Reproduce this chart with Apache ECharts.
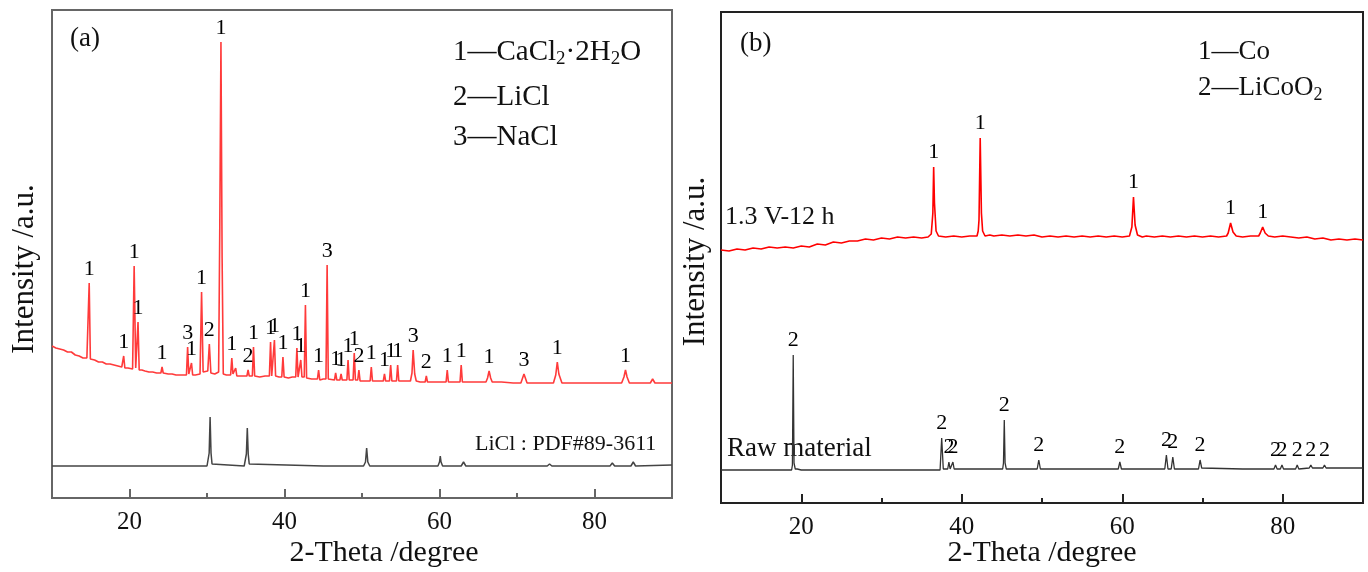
<!DOCTYPE html>
<html>
<head>
<meta charset="utf-8">
<script src="https://cdn.jsdelivr.net/npm/echarts@6/dist/echarts.min.js"></script>
<style>html,body{margin:0;padding:0;background:#fff}#c{width:1368px;height:572px}</style>
</head>
<body>
<div id="c"></div>
<script>
// ---- data (x = 2θ in degree, y = intensity a.u.) ----
var majorTicks = [20, 40, 60, 80];
var minorTicks = [30, 50, 70];

var redA = [
[10,152],[10.5,150],[11,149],[11.5,148],[12,146],[12.5,146],[13,143],[13.5,142],[14,140],[14.5,140],
[14.65,139],[14.8,215],[14.95,139],
[15.5,138],[16,136],[16.5,136],[17,134],[17.5,134],[18,133],[18.5,132],[19,131],
[19.1,131],[19.25,142],[19.4,130],
[19.8,130],[20.4,129],[20.6,232],[20.8,130],[20.95,131],[21.1,176],[21.25,128],
[21.6,128],[22,127],[22.5,126],[23,126],[23.5,125],[24.05,125],[24.2,131],[24.35,125],
[25,124],[25.5,124],[26,123],[26.5,123],[27,123],[27.35,123],[27.5,151],[27.65,124],[27.85,124],[28.0,135],[28.15,123],
[28.5,123],[29.1,124],[29.3,206],[29.5,126],[30.1,127],[30.3,154],[30.5,125],
[31,124],[31.5,126],[31.65,271],[31.8,456],[31.95,240],[32.1,124],
[32.5,123],[33.05,123],[33.2,140],[33.35,124],[33.55,124],[33.7,130],[33.85,122],
[34.5,122],[35.15,122],[35.3,128],[35.45,122],[35.85,122],[36.0,151],[36.15,122],
[36.8,121],[37.5,122],[38.05,122],[38.2,156],[38.35,122],[38.55,122],[38.7,158],[38.85,122],
[39.3,121],[39.65,121],[39.8,141],[39.95,121],
[40.5,120],[41.0,121],[41.45,121],[41.6,150],[41.75,121],[41.95,121],[42.1,138],[42.25,121],[42.55,121],[42.7,193],[42.85,120],
[43.5,119],[44.25,119],[44.4,128],[44.55,118],
[45.0,119],[45.35,119],[45.5,233],[45.65,119],[45.9,118],
[46.45,118],[46.6,125],[46.75,118],[47.15,118],[47.3,124],[47.45,118],
[48.05,118],[48.2,138],[48.35,118],[48.85,118],[49.0,145],[49.15,118],[49.45,118],[49.6,128],[49.75,117],
[50.5,117],[51.05,117],[51.2,131],[51.35,117],[52,117],[52.75,117],[52.9,124],[53.05,117],[53.55,117],[53.7,133],[53.85,117],[54.45,117],[54.6,133],[54.75,117],
[55.5,117],[56.25,117],[56.45,125],[56.6,148],[56.8,124],[57.0,117],[57.5,116],[58.15,116],[58.3,122],[58.45,116],
[59.5,116],[60.85,116],[61.0,128],[61.15,116],[62,116],[62.65,116],[62.8,133],[62.95,116],
[64,116],[65,116],[66.0,116],[66.2,120],[66.4,127],[66.6,120],[66.8,116],[68,116],[69.5,115],[70.5,115],[70.9,124],[71.3,115],
[72.5,115],[74,115],[74.7,115],[75.0,123],[75.2,136],[75.4,124],[75.8,115],[77,115],[79,115],[81,115],[83,115],[83.5,115],[83.8,121],[84.0,128],[84.2,121],[84.5,115],
[86,115],[87.2,115],[87.5,119],[87.8,115],[89,115],[90,115]
];

var blackA = [
[10,32],[20,32],[30.0,32],[30.15,34],[30.28,45],[30.4,81],[30.52,45],[30.65,34],[30.8,32],
[34.8,32],[34.95,34],[35.08,44],[35.2,70],[35.32,44],[35.45,34],[35.6,32],
[45,32],[50.2,32],[50.45,36],[50.6,50],[50.75,36],[51.0,32],
[59.8,32],[60.0,36],[60.1,42],[60.2,36],[60.4,32],
[62.8,32],[63.1,36],[63.4,32],[70,32],[73.9,32],[74.2,34],[74.5,32],
[82.0,32],[82.3,35],[82.6,32],[84.7,32],[85.0,36],[85.3,32],[90,33]
];

var labelsA = [
[14.8,215,'1'],[19.25,142,'1'],[20.6,232,'1'],[21.1,176,'1'],[24.2,131,'1'],[27.5,151,'3'],[28.0,135,'1'],
[29.3,206,'1'],[30.3,154,'2'],[31.8,456,'1'],[33.2,140,'1'],[35.3,128,'2'],[36.0,151,'1'],[38.2,156,'1'],
[38.7,158,'1'],[39.8,141,'1'],[41.6,150,'1'],[42.1,138,'1'],[42.7,193,'1'],[44.4,128,'1'],[45.5,233,'3'],
[46.6,125,'1'],[47.3,124,'1'],[48.2,138,'1'],[49.0,145,'1'],[49.6,128,'2'],[51.2,131,'1'],[52.9,124,'1'],
[53.7,133,'1'],[54.6,133,'1'],[56.6,148,'3'],[58.3,122,'2'],[61.0,128,'1'],[62.8,133,'1'],[66.4,127,'1'],
[70.9,124,'3'],[75.2,136,'1'],[84.0,128,'1']
];

var redB = [
[10,253],[11,252],[12,254],[13,253],[14,255],[15,254],[16,256],[17,255],[18,256],[19,255],[20,257],[21,256],
[22,259],[23,258],[24,261],[25,260],[26,262],[27,262],[28,264],[29,263],[30,265],[31,264],[32,266],[33,265],
[34,266],[35,265],[35.8,266],[36.2,269],[36.4,290],[36.5,336],[36.6,300],[36.8,272],[37.1,267],[38,266],
[39,267],[40,266],[41,267],[41.9,267],[42.05,272],[42.15,283],[42.3,365],[42.45,290],[42.6,272],[42.9,267],
[43.5,268],[44,267],[45,268],[46,267],[47,268],[48,267],[49,268],[50,266],[51,267],[52,266],[53,267],[54,266],
[55,267],[56,266],[57,267],[58,266],[59,267],[60,266],[60.9,267],[61.2,276],[61.4,306],[61.6,278],[61.9,268],
[62.5,266],[63,267],[64,266],[65,267],[66,266],[67,267],[68,266],[69,267],[70,266],[71,267],[72,266],[73,267],
[73.2,270],[73.5,280],[73.8,271],[74.2,267],[75,266],[76,267],[77,267],[77.2,270],[77.5,276],[77.8,270],
[78.2,267],[79,266],[80,267],[81,266],[82,265],[83,266],[84,264],[85,265],[86,263],[87,264],[88,263],[89,264],[90,263]
];

var blackB = [
[10,33],[14,33],[18,33],[18.8,33],[18.9,38],[19.0,148],[19.1,40],[19.25,34],[19.5,34],[20,33],[25,33],[30,33],
[35,33],[37.3,33],[37.5,65],[37.7,34],[38.25,34],[38.4,41],[38.55,34],[38.75,34],[38.9,41],[39.05,34],[40,34],
[43,34],[45.1,34],[45.2,40],[45.3,83],[45.4,40],[45.55,34],[48,34],[49.4,34],[49.6,43],[49.8,34],[55,34],
[59.5,34],[59.7,41],[59.9,34],[63,34],[65.3,34],[65.5,48],[65.7,34],[66.1,34],[66.3,46],[66.5,34],[69.5,34],
[69.7,43],[69.9,35],[75,34],[78.9,34],[79.1,38],[79.3,34],[79.7,34],[79.9,38],[80.1,34],[81.6,34],[81.8,38],
[82,34],[83.3,35],[83.5,38],[83.7,35],[85,35],[85.2,38],[85.4,35],[90,35]
];

var labelsB1 = [[36.5,336,'1'],[42.3,365,'1'],[61.4,306,'1'],[73.5,280,'1'],[77.5,276,'1']];
var labelsB2 = [
[19.0,148,'2'],[37.5,65,'2'],[38.4,41,'2'],[38.9,41,'2'],[45.3,83,'2'],[49.6,43,'2'],[59.7,41,'2'],
[65.5,48,'2'],[66.3,46,'2'],[69.7,43,'2'],[79.1,38,'2'],[79.9,38,'2'],[81.8,38,'2'],[83.5,38,'2'],[85.2,38,'2']
];

// ---- chart ----
var FONT = '"Liberation Serif","DejaVu Serif",serif';
var chart = echarts.init(document.getElementById('c'), null, {renderer: 'canvas'});

function mainX(gi, color, namePad, gap) {
  return {
    gridIndex: gi, type: 'value', min: 10, max: 90, position: 'bottom',
    axisLine: {lineStyle: {color: color, width: 2}},
    axisTick: {inside: true, length: 9, customValues: majorTicks, lineStyle: {color: color, width: 2}},
    axisLabel: {customValues: majorTicks, fontSize: 25, fontFamily: FONT, color: '#111', margin: 12},
    splitLine: {show: false},
    name: '2-Theta /degree', nameLocation: 'middle', nameGap: gap, nameMoveOverlap: false,
    nameTextStyle: {fontSize: 30, fontFamily: FONT, color: '#111', padding: namePad}
  };
}
function minorX(gi, color) {
  return {
    gridIndex: gi, type: 'value', min: 10, max: 90, position: 'bottom',
    axisLine: {show: false},
    axisTick: {inside: true, length: 5, customValues: minorTicks, lineStyle: {color: color, width: 2}},
    axisLabel: {show: false}, splitLine: {show: false}
  };
}
function yAx(gi, max, gap, pad) {
  return {
    gridIndex: gi, type: 'value', min: 0, max: max,
    axisLine: {show: false}, axisTick: {show: false}, axisLabel: {show: false}, splitLine: {show: false},
    name: 'Intensity /a.u.', nameLocation: 'middle', nameGap: gap,
    nameTextStyle: {fontSize: 31, fontFamily: FONT, color: '#111', padding: pad}
  };
}
function labelSeries(xi, yi, data, dist) {
  return {
    type: 'scatter', xAxisIndex: xi, yAxisIndex: yi, data: data, symbolSize: 0,
    itemStyle: {color: '#000'}, silent: true, z: 5,
    label: {show: true, position: 'top', distance: dist, formatter: function (p) { return p.value[2]; },
      fontSize: 22, fontFamily: FONT, color: '#000', opacity: 1}
  };
}

var option = {
  backgroundColor: '#fff',
  animation: false,
  grid: [
    {left: 52, top: 10, width: 620, height: 488, show: true, borderColor: '#666', borderWidth: 2,
     containLabel: false, outerBoundsMode: 'none'},
    {left: 721, top: 12, width: 642, height: 491, show: true, borderColor: '#222', borderWidth: 2,
     containLabel: false, outerBoundsMode: 'none'}
  ],
  xAxis: [mainX(0, '#666', [0, 0, 0, 44], 40), minorX(0, '#666'), mainX(1, '#222', 0, 35), minorX(1, '#222')],
  yAxis: [yAx(0, 488, 12, [0, 30, 0, 0]), yAx(1, 491, 10, [0, 8, 0, 0])],
  series: [
    {type: 'line', xAxisIndex: 0, yAxisIndex: 0, data: blackA, showSymbol: false, lineStyle: {color: '#444', width: 1.5}},
    {type: 'line', xAxisIndex: 0, yAxisIndex: 0, data: redA, showSymbol: false, lineStyle: {color: '#ff3a3a', width: 1.6}},
    labelSeries(0, 0, labelsA, 3),
    {type: 'line', xAxisIndex: 2, yAxisIndex: 1, data: blackB, showSymbol: false, lineStyle: {color: '#333', width: 1.3}},
    {type: 'line', xAxisIndex: 2, yAxisIndex: 1, data: redB, showSymbol: false, lineStyle: {color: '#ff0000', width: 1.6}},
    labelSeries(2, 1, labelsB1, 4),
    labelSeries(2, 1, labelsB2, 4)
  ],
  graphic: [
    {type: 'text', left: 70, top: 25, style: {text: '(a)', font: '27px ' + FONT, fill: '#111'}},
    {type: 'text', left: 740, top: 30, style: {text: '(b)', font: '27px ' + FONT, fill: '#111'}},
    {type: 'text', x: 453, y: 52, style: {
      text: '1—CaCl{s|2}·2H{s|2}O', font: '29px ' + FONT, fill: '#111', verticalAlign: 'middle',
      rich: {s: {fontSize: 19, fontFamily: FONT, padding: [14, 0, 0, 0], fill: '#111'}}}},
    {type: 'text', x: 453, y: 97, style: {text: '2—LiCl', font: '29px ' + FONT, fill: '#111', verticalAlign: 'middle'}},
    {type: 'text', x: 453, y: 137, style: {text: '3—NaCl', font: '29px ' + FONT, fill: '#111', verticalAlign: 'middle'}},
    {type: 'text', x: 475, y: 444, style: {text: 'LiCl : PDF#89-3611', font: '22px ' + FONT, fill: '#111', verticalAlign: 'middle'}},
    {type: 'text', x: 1198, y: 52, style: {text: '1—Co', font: '27px ' + FONT, fill: '#111', verticalAlign: 'middle'}},
    {type: 'text', x: 1198, y: 88, style: {
      text: '2—LiCoO{s|2}', font: '27px ' + FONT, fill: '#111', verticalAlign: 'middle',
      rich: {s: {fontSize: 18, fontFamily: FONT, padding: [14, 0, 0, 0], fill: '#111'}}}},
    {type: 'text', x: 725, y: 217, style: {text: '1.3 V-12 h', font: '26px ' + FONT, fill: '#111', verticalAlign: 'middle'}},
    {type: 'text', x: 727, y: 449, style: {text: 'Raw material', font: '27px ' + FONT, fill: '#111', verticalAlign: 'middle'}}
  ]
};
chart.setOption(option);
</script>
</body>
</html>
